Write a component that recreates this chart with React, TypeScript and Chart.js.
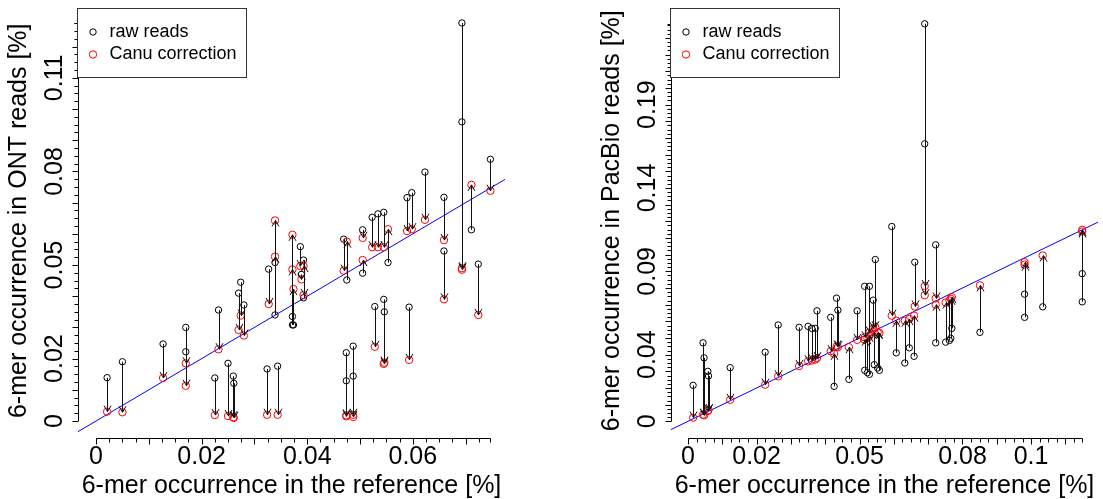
import React, { useEffect, useRef } from "react";
import { Chart, registerables } from "chart.js";

Chart.register(...registerables);

// ---------- data: ONT panel ----------
const ontX = [0.0021, 0.005, 0.0127, 0.017, 0.017, 0.0232, 0.0225, 0.025, 0.026, 0.0261, 0.027, 0.0274, 0.028, 0.0324, 0.0327, 0.0339, 0.0339, 0.0344, 0.0372, 0.0372, 0.0374, 0.0387, 0.0389, 0.0393, 0.0393, 0.0469, 0.0475, 0.0474, 0.0474, 0.0487, 0.0487, 0.0505, 0.0505, 0.0523, 0.0528, 0.0534, 0.0545, 0.0553, 0.0545, 0.0546, 0.0589, 0.0598, 0.0593, 0.0623, 0.0659, 0.0659, 0.0693, 0.0693, 0.0711, 0.0724, 0.0747];
const ontRaw = [0.0139, 0.019, 0.0247, 0.03, 0.0222, 0.0356, 0.0138, 0.0185, 0.0144, 0.0121, 0.041, 0.0445, 0.0372, 0.0167, 0.0487, 0.034, 0.0508, 0.0176, 0.0308, 0.0335, 0.0308, 0.0559, 0.047, 0.0516, 0.0395, 0.0583, 0.0452, 0.0219, 0.0129, 0.024, 0.0144, 0.0613, 0.0474, 0.0653, 0.0367, 0.0664, 0.0669, 0.0508, 0.039, 0.035, 0.0716, 0.0732, 0.0365, 0.0798, 0.0717, 0.0545, 0.1276, 0.0959, 0.0613, 0.0503, 0.0839];
const ontCanu = [0.003, 0.0028, 0.0138, 0.0185, 0.0113, 0.023, 0.0019, 0.0016, 0.0012, 0.001, 0.0292, 0.0338, 0.0274, 0.002, 0.0375, 0.0643, 0.0527, 0.002, 0.0597, 0.0486, 0.0423, 0.0497, 0.0454, 0.0404, 0.0497, 0.0482, 0.0575, 0.0015, 0.0018, 0.0013, 0.002, 0.0587, 0.0516, 0.0557, 0.0238, 0.0557, 0.0557, 0.0615, 0.0183, 0.0187, 0.0609, 0.0615, 0.0196, 0.0645, 0.058, 0.039, 0.049, 0.0485, 0.0757, 0.034, 0.0738];

// ---------- data: PacBio panel ----------
const pbX = [0.0015, 0.0044, 0.0047, 0.0058, 0.006, 0.0123, 0.0225, 0.0263, 0.0324, 0.035, 0.0361, 0.0371, 0.0376, 0.0416, 0.0426, 0.0433, 0.0437, 0.0469, 0.0493, 0.0515, 0.0529, 0.054, 0.0515, 0.0523, 0.0529, 0.0543, 0.0553, 0.0558, 0.0546, 0.0594, 0.0607, 0.0632, 0.0645, 0.0659, 0.0661, 0.069, 0.069, 0.0722, 0.0722, 0.0751, 0.0762, 0.0766, 0.0769, 0.0851, 0.0981, 0.0981, 0.1034, 0.1149, 0.1149];
const pbRaw = [0.0216, 0.0471, 0.0381, 0.03, 0.0272, 0.0322, 0.0415, 0.0578, 0.0564, 0.057, 0.0558, 0.0558, 0.0663, 0.0624, 0.021, 0.0739, 0.0667, 0.0252, 0.0663, 0.081, 0.081, 0.0727, 0.0306, 0.0292, 0.0282, 0.034, 0.032, 0.0306, 0.0971, 0.1169, 0.0411, 0.035, 0.0441, 0.039, 0.0955, 0.2385, 0.1665, 0.1059, 0.0471, 0.0475, 0.0485, 0.0498, 0.0558, 0.0534, 0.0763, 0.0624, 0.0687, 0.0886, 0.0717];
const pbCanu = [0.0022, 0.004, 0.0036, 0.0062, 0.0068, 0.0129, 0.022, 0.027, 0.0332, 0.036, 0.0365, 0.0371, 0.0379, 0.0421, 0.0405, 0.0449, 0.0445, 0.0445, 0.0489, 0.0504, 0.0534, 0.0558, 0.049, 0.0499, 0.0514, 0.0534, 0.0534, 0.053, 0.0564, 0.0634, 0.0604, 0.0604, 0.0614, 0.0634, 0.0689, 0.0812, 0.0757, 0.0737, 0.07, 0.0713, 0.0725, 0.0735, 0.0745, 0.0816, 0.0955, 0.094, 0.0995, 0.1149, 0.1139];

// ---------- tick labels ----------
const ontXTicks = [0, 0.02, 0.04, 0.06];
const ontYTicks = [0, 0.02, 0.05, 0.08, 0.11];
const pbXTicks = [0, 0.02, 0.05, 0.08, 0.1];
const pbYTicks = [0, 0.04, 0.09, 0.14, 0.19];
const minorStep = 0.0025;

const xTitle = "6-mer occurrence in the reference [%]";
const ontYTitle = "6-mer occurrence in ONT reads [%]";
const pbYTitle = "6-mer occurrence in PacBio reads [%]";
const legendLabels = ["raw reads", "Canu correction"];

const FONT = "'Liberation Sans', Arial, Helvetica, sans-serif";

type Panel = {
  x: number[];
  raw: number[];
  canu: number[];
  xTicks: number[];
  yTicks: number[];
  yTitle: string;
  xMin: number;
  xMax: number;
  yMin: number;
  yMax: number;
  left: number;
  padding: { left: number; right: number; top: number; bottom: number };
};

const W = 552;
const H = 499;

const panels: Panel[] = [
  {
    x: ontX, raw: ontRaw, canu: ontCanu, xTicks: ontXTicks, yTicks: ontYTicks, yTitle: ontYTitle,
    xMin: -0.00341, xMax: 0.07746, yMin: -0.004, yMax: 0.1324,
    left: 0, padding: { left: 78, right: 47, top: 8, bottom: 65.5 },
  },
  {
    x: pbX, raw: pbRaw, canu: pbCanu, xTicks: pbXTicks, yTicks: pbYTicks, yTitle: pbYTitle,
    xMin: -0.00494, xMax: 0.1195, yMin: -0.0073, yMax: 0.248,
    left: 551, padding: { left: 120, right: 4, top: 8, bottom: 65.5 },
  },
];

function fmt(v: number) {
  return String(v);
}

function tickValues(max: number) {
  const out: { v: number; major: boolean }[] = [];
  for (let k = 0; k * minorStep <= max + 1e-9; k++) out.push({ v: k * minorStep, major: k % 4 === 0 });
  if (max - out[out.length - 1].v > 1e-6) out.push({ v: max, major: false });
  return out;
}

function makePlugin(p: Panel) {
  return {
    id: "rstyle",
    afterDatasetsDraw(chart: any) {
      const ctx: CanvasRenderingContext2D = chart.ctx;
      const xs = chart.scales.x;
      const ys = chart.scales.y;
      ctx.save();
      ctx.strokeStyle = "#111";
      ctx.lineWidth = 1;
      const L = 7;
      const a = Math.PI / 6;
      for (let i = 0; i < p.x.length; i++) {
        const px = Math.round(xs.getPixelForValue(p.x[i])) + 0.5;
        const y0 = ys.getPixelForValue(p.raw[i]);
        const y1 = ys.getPixelForValue(p.canu[i]);
        if (Math.abs(y1 - y0) < 1) continue;
        const s = y1 > y0 ? 1 : -1;
        ctx.beginPath();
        ctx.moveTo(px, y0);
        ctx.lineTo(px, y1);
        ctx.moveTo(px - L * Math.sin(a), y1 - s * L * Math.cos(a));
        ctx.lineTo(px, y1);
        ctx.lineTo(px + L * Math.sin(a), y1 - s * L * Math.cos(a));
        ctx.stroke();
      }
      ctx.restore();
    },
    afterDraw(chart: any) {
      const ctx: CanvasRenderingContext2D = chart.ctx;
      const xs = chart.scales.x;
      const ys = chart.scales.y;
      const area = chart.chartArea;
      ctx.save();
      ctx.strokeStyle = "#000";
      ctx.fillStyle = "#000";
      ctx.lineWidth = 1;

      // x axis
      const axY = Math.round(area.bottom + 4.5) + 0.5;
      const xMaxData = Math.max(...p.x);
      const xt = tickValues(xMaxData);
      ctx.beginPath();
      ctx.moveTo(xs.getPixelForValue(0), axY);
      ctx.lineTo(xs.getPixelForValue(xMaxData), axY);
      for (const t of xt) {
        const px = Math.round(xs.getPixelForValue(t.v)) + 0.5;
        ctx.moveTo(px, axY);
        ctx.lineTo(px, axY + (t.major ? 6 : 4));
      }
      ctx.stroke();
      ctx.font = `25px ${FONT}`;
      ctx.textAlign = "center";
      ctx.textBaseline = "middle";
      for (const v of p.xTicks) {
        ctx.fillText(fmt(v), xs.getPixelForValue(v), axY + 19);
      }
      ctx.fillText(xTitle, (area.left + area.right) / 2, axY + 48);

      // y axis
      const axX = Math.round(area.left) + 0.5;
      const yMaxData = Math.max(...p.raw);
      const yt = tickValues(yMaxData);
      ctx.beginPath();
      ctx.moveTo(axX, ys.getPixelForValue(0));
      ctx.lineTo(axX, ys.getPixelForValue(yMaxData));
      for (const t of yt) {
        const py = Math.round(ys.getPixelForValue(t.v)) + 0.5;
        ctx.moveTo(axX, py);
        ctx.lineTo(axX - (t.major ? 6 : 4), py);
      }
      ctx.stroke();
      for (const v of p.yTicks) {
        ctx.save();
        ctx.translate(axX - 23, ys.getPixelForValue(v));
        ctx.rotate(-Math.PI / 2);
        ctx.fillText(fmt(v), 0, 0);
        ctx.restore();
      }
      ctx.save();
      ctx.translate(axX - 59, (area.top + area.bottom) / 2);
      ctx.rotate(-Math.PI / 2);
      ctx.fillText(p.yTitle, 0, 0);
      ctx.restore();

      // legend
      const bx = Math.round(area.left - 1) + 0.5;
      const by = Math.round(area.top) + 0.5;
      ctx.fillStyle = "#fff";
      ctx.fillRect(bx, by, 169, 69);
      ctx.strokeStyle = "#333";
      ctx.strokeRect(bx, by, 169, 69);
      ctx.font = `18px ${FONT}`;
      ctx.textAlign = "left";
      const rows = [by + 23.5, by + 46];
      const cols = ["#000", "#ff0000"];
      for (let i = 0; i < 2; i++) {
        ctx.beginPath();
        ctx.strokeStyle = cols[i];
        ctx.arc(bx + 15.5, rows[i], i === 0 ? 3.2 : 3.7, 0, Math.PI * 2);
        ctx.stroke();
        ctx.fillStyle = "#000";
        ctx.fillText(legendLabels[i], bx + 32, rows[i]);
      }
      ctx.restore();
    },
  };
}

function PanelChart({ p }: { p: Panel }) {
  const ref = useRef<HTMLCanvasElement>(null);
  useEffect(() => {
    if (!ref.current) return;
    const chart = new Chart(ref.current, {
      type: "scatter",
      data: {
        datasets: [
          {
            label: legendLabels[1],
            data: p.x.map((v, i) => ({ x: v, y: p.canu[i] })),
            pointStyle: "circle",
            pointRadius: 3.7,
            pointBorderWidth: 1,
            pointBorderColor: "#ff0000",
            pointBackgroundColor: "rgba(0,0,0,0)",
            showLine: false,
          },
          {
            label: legendLabels[0],
            data: p.x.map((v, i) => ({ x: v, y: p.raw[i] })),
            pointStyle: "circle",
            pointRadius: 3.2,
            pointBorderWidth: 1,
            pointBorderColor: "#000",
            pointBackgroundColor: "rgba(0,0,0,0)",
            showLine: false,
          },
          {
            label: "y = x",
            data: [
              { x: -1, y: -1 },
              { x: 1, y: 1 },
            ],
            showLine: true,
            borderColor: "#0000ff",
            borderWidth: 1,
            pointRadius: 0,
            clip: 0,
          } as any,
        ],
      },
      options: {
        animation: false,
        responsive: false,
        events: [],
        layout: { padding: p.padding },
        plugins: { legend: { display: false }, tooltip: { enabled: false }, title: { display: false } },
        scales: {
          x: { type: "linear", min: p.xMin, max: p.xMax, bounds: "data", display: false },
          y: { type: "linear", min: p.yMin, max: p.yMax, bounds: "data", display: false },
        },
      },
      plugins: [makePlugin(p)],
    });
    return () => chart.destroy();
  }, [p]);
  return (
    <canvas
      ref={ref}
      width={W}
      height={H}
      style={{ position: "absolute", left: p.left, top: 0, width: W, height: H }}
    />
  );
}

export default function App() {
  return (
    <div style={{ position: "fixed", left: 0, top: 0, width: 1103, height: 499, background: "#fff", overflow: "hidden" }}>
      {panels.map((p, i) => (
        <PanelChart key={i} p={p} />
      ))}
    </div>
  );
}
